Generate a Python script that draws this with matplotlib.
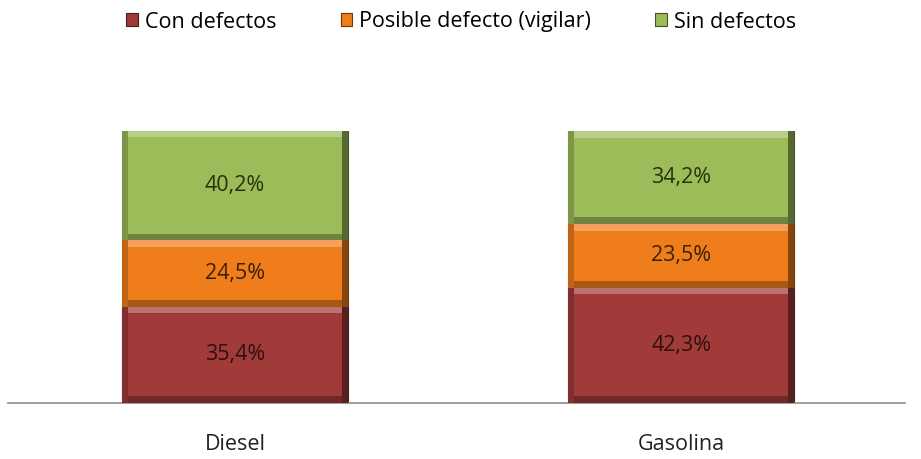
import numpy as np
import matplotlib.pyplot as plt
from matplotlib.colors import to_rgb

categories = ["Diesel", "Gasolina"]
series_names = ["Con defectos", "Posible defecto (vigilar)", "Sin defectos"]
con_defectos = [35.4, 42.3]
posible_defecto = [24.5, 23.5]
sin_defectos = [40.2, 34.2]

colors = ["#a03b3a", "#f07d1c", "#9cbb59"]
text_colors = ["#2e1010", "#3a2006", "#24340c"]


def shade(c, f):
    r = np.array(to_rgb(c))
    if f > 0:
        return tuple(r + (1 - r) * f)
    return tuple(r * (1 + f))


plt.rcParams['font.family'] = ['Open Sans', 'DejaVu Sans']

fig = plt.figure(figsize=(9.21, 4.59), dpi=100)
ax = fig.add_axes([8 / 921, 1 - 403 / 459, 897 / 921, 272 / 459])

x = np.arange(len(categories))
width = 0.507
bev_y = 2.4      # bevel thickness in data units (vertical)
bev_x = 0.013    # bevel thickness (horizontal)

bottoms = np.zeros(len(categories))
for vals, col, tcol, name in zip([con_defectos, posible_defecto, sin_defectos],
                                 colors, text_colors, series_names):
    vals = np.array(vals)
    ax.bar(x, vals, width, bottom=bottoms, color=col, edgecolor=shade(col, -0.55),
           linewidth=0.8, label=name, zorder=2)
    # bevel: highlight on top, shadow on bottom and sides
    ax.bar(x, np.full_like(vals, bev_y), width - 2 * bev_x, bottom=bottoms + vals - bev_y,
           color=shade(col, 0.28), linewidth=0, zorder=3)
    ax.bar(x, np.full_like(vals, bev_y), width - 2 * bev_x, bottom=bottoms,
           color=shade(col, -0.3), linewidth=0, zorder=3)
    ax.bar(x + width / 2 - bev_x / 2, vals, bev_x, bottom=bottoms,
           color=shade(col, -0.45), linewidth=0, zorder=3)
    ax.bar(x - width / 2 + bev_x / 2, vals, bev_x, bottom=bottoms,
           color=shade(col, -0.2), linewidth=0, zorder=3)
    for xi, v, b in zip(x, vals, bottoms):
        ax.text(xi, b + v / 2, f"{v:.1f}%".replace(".", ","), ha="center", va="center",
                fontsize=15.5, color=tcol, zorder=4)
    bottoms += vals

ax.set_xlim(-0.509, 1.502)
ax.set_ylim(0, 100)
for s in ["top", "right", "left"]:
    ax.spines[s].set_visible(False)
ax.spines["bottom"].set_color("#8c8c8c")
ax.spines["bottom"].set_linewidth(1.2)
ax.set_yticks([])
ax.set_xticks(x)
ax.set_xticklabels(categories, fontsize=15.5, color="#222222")
ax.tick_params(axis="x", length=0, pad=22)

handles, labels = ax.get_legend_handles_labels()
fig.legend(handles, labels, loc="center", bbox_to_anchor=(461 / 921, 1 - 22 / 459), ncol=3,
           frameon=False, fontsize=15.5, handlelength=0.55, handleheight=0.55,
           handletextpad=0.3, columnspacing=3.0)

fig.savefig("out.png", dpi=100, facecolor="white")
